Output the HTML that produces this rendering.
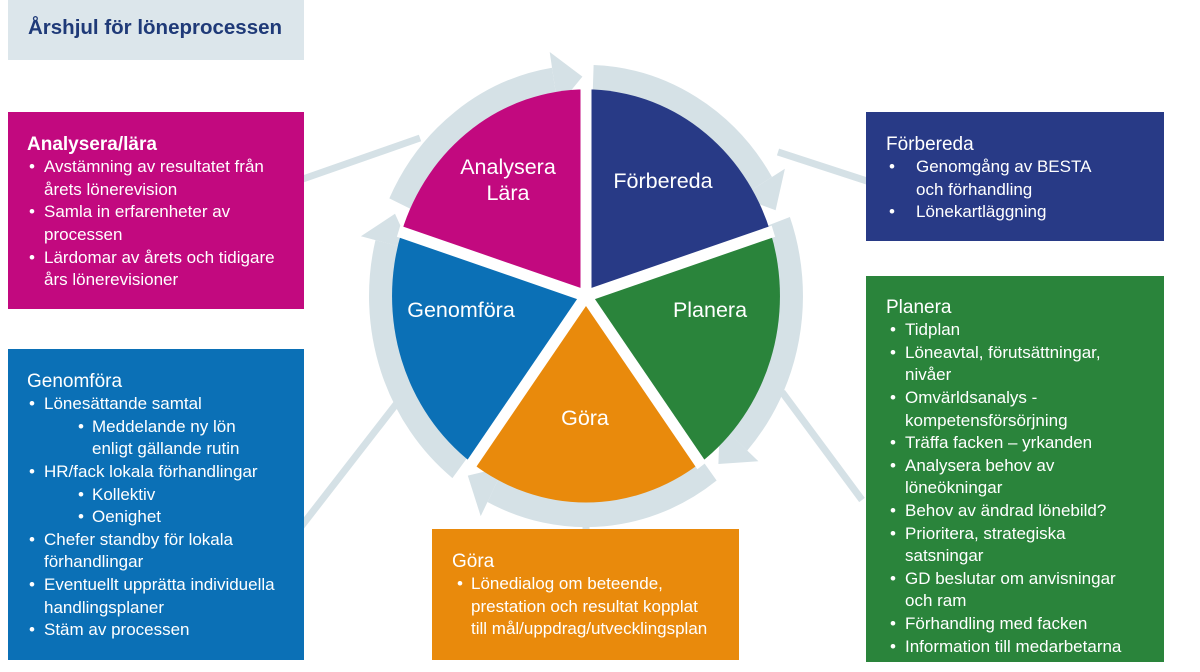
<!DOCTYPE html>
<html><head><meta charset="utf-8">
<style>
body{margin:0;width:1200px;height:672px;overflow:hidden;background:#fff;font-family:"Liberation Sans",sans-serif;position:relative}
.box{position:absolute;color:#fff;font-size:17px;line-height:22.6px;box-sizing:border-box}
.l{position:relative;white-space:nowrap;height:22.6px}
.b{position:absolute}
.h{font-size:19px}
svg{position:absolute;left:0;top:0}
</style></head><body>
<svg width="1200" height="672" id="s">
<g stroke="#d5e1e6" stroke-width="7">
<line x1="300" y1="180" x2="420" y2="138"/>
<line x1="778" y1="152" x2="870" y2="182"/>
<line x1="300" y1="528" x2="397" y2="403"/>
<line x1="782" y1="392" x2="862" y2="500"/>
<line x1="586" y1="500" x2="586" y2="532"/>
</g>
<g id="wheel" transform="translate(586,296) scale(1,1.065) translate(-586,-296)"></g>
<g fill="#fff" font-family="Liberation Sans, sans-serif" font-size="21.5" text-anchor="middle">
<text x="508" y="174">Analysera</text>
<text x="508" y="200">Lära</text>
<text x="663" y="188">Förbereda</text>
<text x="461" y="317">Genomföra</text>
<text x="710" y="317">Planera</text>
<text x="585" y="425">Göra</text>
</g>
</svg>
<script>
(function(){
var cx=586,cy=296,r=194,R=205;
function p(a,rad){a=a*Math.PI/180;return [(cx+rad*Math.sin(a)).toFixed(1),(cy-rad*Math.cos(a)).toFixed(1)];}
var cols=["#283a86","#2a843b","#e98a0c","#0b70b6","#c2097f"];
var h="";
var T=[-2,66,139,214,291];
for(var i=0;i<5;i++){
 var s=T[(i+4)%5]+4,e=T[i]-7;
 if(i==0){s=T[4]+4-360;}
 var a=p(s,R),b=p(e,R);
 h+='<path d="M'+a+' A'+R+' '+R+' 0 0 1 '+b+'" fill="none" stroke="#d5e1e6" stroke-width="24"/>';
 var q1=p(e,180),q2=p(e,232),t=p(T[i]+1,206);
 h+='<polygon points="'+q1+' '+q2+' '+t+'" fill="#d5e1e6"/>';
}
for(var i=0;i<5;i++){
 var a0=i*72,a1=a0+72;
 var A=p(a0,r),B=p(a1,r);
 h+='<path d="M'+cx+','+cy+' L'+A+' A'+r+' '+r+' 0 0 1 '+B+' Z" fill="'+cols[i]+'"/>';
}
for(var i=0;i<5;i++){var E=p(i*72,r+3);h+='<line x1="'+cx+'" y1="'+cy+'" x2="'+E[0]+'" y2="'+E[1]+'" stroke="#fff" stroke-width="11"/>';}
document.getElementById("wheel").innerHTML=h;
})();
</script>

<div class="box" style="left:8px;top:0;width:296px;height:60px;background:#dce6eb;color:#1f3a78;font-weight:bold;font-size:20.5px;padding:15px 0 0 20px;line-height:26px">Årshjul för löneprocessen</div>

<div class="box" style="left:8px;top:112px;width:296px;height:197px;background:#c2097f;padding:21.7px 0 0 19px">
<div class="l h" style="font-weight:bold">Analysera/lära</div>
<div class="l"><span class="b" style="left:2px">•</span><span style="margin-left:17px">Avstämning av resultatet från</span></div>
<div class="l"><span style="margin-left:17px">årets lönerevision</span></div>
<div class="l"><span class="b" style="left:2px">•</span><span style="margin-left:17px">Samla in erfarenheter av</span></div>
<div class="l"><span style="margin-left:17px">processen</span></div>
<div class="l"><span class="b" style="left:2px">•</span><span style="margin-left:17px">Lärdomar av årets och tidigare</span></div>
<div class="l"><span style="margin-left:17px">års lönerevisioner</span></div>
</div>

<div class="box" style="left:8px;top:349px;width:296px;height:311px;background:#0b70b6;padding:21.7px 0 0 19px">
<div class="l h">Genomföra</div>
<div class="l"><span class="b" style="left:2px">•</span><span style="margin-left:17px">Lönesättande samtal</span></div>
<div class="l"><span class="b" style="left:51px">•</span><span style="margin-left:65px">Meddelande ny lön</span></div>
<div class="l"><span style="margin-left:65px">enligt gällande rutin</span></div>
<div class="l"><span class="b" style="left:2px">•</span><span style="margin-left:17px">HR/fack lokala förhandlingar</span></div>
<div class="l"><span class="b" style="left:51px">•</span><span style="margin-left:65px">Kollektiv</span></div>
<div class="l"><span class="b" style="left:51px">•</span><span style="margin-left:65px">Oenighet</span></div>
<div class="l"><span class="b" style="left:2px">•</span><span style="margin-left:17px">Chefer standby för lokala</span></div>
<div class="l"><span style="margin-left:17px">förhandlingar</span></div>
<div class="l"><span class="b" style="left:2px">•</span><span style="margin-left:17px">Eventuellt upprätta individuella</span></div>
<div class="l"><span style="margin-left:17px">handlingsplaner</span></div>
<div class="l"><span class="b" style="left:2px">•</span><span style="margin-left:17px">Stäm av processen</span></div>
</div>

<div class="box" style="left:866px;top:112px;width:298px;height:129px;background:#283a86;padding:21.7px 0 0 20px">
<div class="l h">Förbereda</div>
<div class="l"><span class="b" style="left:3px">•</span><span style="margin-left:30px">Genomgång av BESTA</span></div>
<div class="l"><span style="margin-left:30px">och förhandling</span></div>
<div class="l"><span class="b" style="left:3px">•</span><span style="margin-left:30px">Lönekartläggning</span></div>
</div>

<div class="box" style="left:866px;top:276px;width:298px;height:386px;background:#2a843b;padding:20.7px 0 0 20px">
<div class="l h">Planera</div>
<div class="l"><span class="b" style="left:4px">•</span><span style="margin-left:19px">Tidplan</span></div>
<div class="l"><span class="b" style="left:4px">•</span><span style="margin-left:19px">Löneavtal, förutsättningar,</span></div>
<div class="l"><span style="margin-left:19px">nivåer</span></div>
<div class="l"><span class="b" style="left:4px">•</span><span style="margin-left:19px">Omvärldsanalys -</span></div>
<div class="l"><span style="margin-left:19px">kompetensförsörjning</span></div>
<div class="l"><span class="b" style="left:4px">•</span><span style="margin-left:19px">Träffa facken – yrkanden</span></div>
<div class="l"><span class="b" style="left:4px">•</span><span style="margin-left:19px">Analysera behov av</span></div>
<div class="l"><span style="margin-left:19px">löneökningar</span></div>
<div class="l"><span class="b" style="left:4px">•</span><span style="margin-left:19px">Behov av ändrad lönebild?</span></div>
<div class="l"><span class="b" style="left:4px">•</span><span style="margin-left:19px">Prioritera, strategiska</span></div>
<div class="l"><span style="margin-left:19px">satsningar</span></div>
<div class="l"><span class="b" style="left:4px">•</span><span style="margin-left:19px">GD beslutar om anvisningar</span></div>
<div class="l"><span style="margin-left:19px">och ram</span></div>
<div class="l"><span class="b" style="left:4px">•</span><span style="margin-left:19px">Förhandling med facken</span></div>
<div class="l"><span class="b" style="left:4px">•</span><span style="margin-left:19px">Information till medarbetarna</span></div>
</div>

<div class="box" style="left:432px;top:529px;width:307px;height:131px;background:#e98a0c;padding:21.7px 0 0 20px">
<div class="l h">Göra</div>
<div class="l"><span class="b" style="left:5px">•</span><span style="margin-left:19px">Lönedialog om beteende,</span></div>
<div class="l"><span style="margin-left:19px">prestation och resultat kopplat</span></div>
<div class="l"><span style="margin-left:19px">till mål/uppdrag/utvecklingsplan</span></div>
</div>
</body></html>
